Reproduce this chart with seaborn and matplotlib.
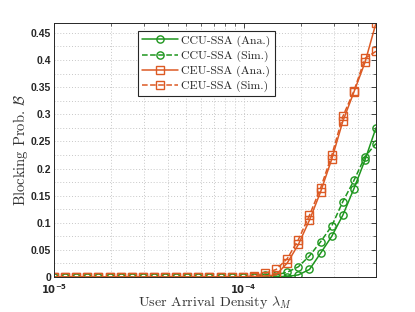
import numpy as np
import pandas as pd
import matplotlib
matplotlib.use('Agg')
import matplotlib.pyplot as plt
import seaborn as sns
from matplotlib.ticker import FixedLocator, MultipleLocator, NullFormatter

# user arrival density (log spaced)
x_vals = [1.000e-5, 1.145e-5, 1.310e-5, 1.499e-5, 1.716e-5, 1.964e-5, 2.248e-5, 2.572e-5,
          2.944e-5, 3.369e-5, 3.856e-5, 4.413e-5, 5.051e-5, 5.781e-5, 6.616e-5, 7.573e-5,
          8.667e-5, 9.919e-5, 1.135e-4, 1.299e-4, 1.487e-4, 1.702e-4, 1.948e-4, 2.229e-4,
          2.551e-4, 2.920e-4, 3.342e-4, 3.825e-4, 4.378e-4, 5.000e-4]

ccu_ana = [0, 0, 0, 0, 0, 0, 0, 0, 0, 0, 0, 0, 0, 0, 0, 0, 0, 0,
           0.0, 0.001, 0.001, 0.001, 0.004, 0.014, 0.044, 0.075, 0.114, 0.163, 0.216, 0.275]
ccu_sim = [0, 0, 0, 0, 0, 0, 0, 0, 0, 0, 0, 0, 0, 0, 0, 0, 0, 0,
           0.0005, 0.004, 0.004, 0.009, 0.019, 0.039, 0.065, 0.094, 0.139, 0.178, 0.222, 0.246]
ceu_ana = [0, 0, 0, 0, 0, 0, 0, 0, 0, 0, 0, 0, 0, 0, 0, 0, 0, 0,
           0.001, 0.002, 0.004, 0.026, 0.060, 0.105, 0.157, 0.217, 0.287, 0.341, 0.396, 0.468]
ceu_sim = [0, 0, 0, 0, 0, 0, 0, 0, 0, 0, 0, 0, 0, 0, 0, 0, 0, 0.0005,
           0.002, 0.007, 0.014, 0.034, 0.069, 0.114, 0.164, 0.224, 0.296, 0.343, 0.403, 0.416]

labels = ['CCU-SSA (Ana.)', 'CCU-SSA (Sim.)', 'CEU-SSA (Ana.)', 'CEU-SSA (Sim.)']

green = '#1e961e'
orange = '#dc5a24'

sns.set_style('white')
plt.rcParams['mathtext.fontset'] = 'cm'

fig = plt.figure(figsize=(4.15, 3.12), dpi=100)
ax = fig.add_axes([0.130, 0.112, 0.776, 0.814])

df = pd.DataFrame({'x': x_vals, 'ccu_ana': ccu_ana, 'ccu_sim': ccu_sim,
                   'ceu_ana': ceu_ana, 'ceu_sim': ceu_sim})

styles = [('ccu_ana', green, 'o', '-'), ('ccu_sim', green, 'o', '--'),
          ('ceu_ana', orange, 's', '-'), ('ceu_sim', orange, 's', '--')]
for (col, c, m, ls), lab in zip(styles, labels):
    sns.lineplot(data=df, x='x', y=col, ax=ax, color=c, marker=m, linestyle=ls,
                 markersize=5.2, markerfacecolor='none', markeredgecolor=c,
                 markeredgewidth=1.0, linewidth=1.1, label=lab)

ax.set_xscale('log')
ax.set_xlim(1e-5, 5e-4)
ax.set_ylim(0, 0.468)

ax.xaxis.set_major_locator(FixedLocator([1e-5, 1e-4]))
ax.set_xticklabels([r'$\mathbf{10^{-5}}$', r'$\mathbf{10^{-4}}$'])
for t in ax.get_xticklabels():
    t.set_math_fontfamily('dejavusans')
    t.set_fontsize(7.2)
    t.set_color('#262626')
ax.xaxis.set_minor_locator(FixedLocator([2e-5, 3e-5, 4e-5, 5e-5, 6e-5, 7e-5, 8e-5, 9e-5,
                                         2e-4, 3e-4, 4e-4, 5e-4]))
ax.xaxis.set_minor_formatter(NullFormatter())

ax.yaxis.set_minor_locator(MultipleLocator(0.025))
ax.set_yticks(np.arange(0, 0.46, 0.05))
ax.set_yticklabels(['0', '0.05', '0.1', '0.15', '0.2', '0.25', '0.3', '0.35', '0.4', '0.45'],
                   fontfamily='Liberation Sans', fontweight='bold', fontsize=7.5)

ax.tick_params(which='both', direction='in', top=True, right=True, color='#262626')
ax.tick_params(which='major', length=3.5, width=0.6, labelcolor='#262626')
ax.tick_params(axis='x', which='major', pad=4)
ax.tick_params(axis='y', which='major', pad=2)
ax.tick_params(which='minor', length=2, width=0.5)

ax.grid(True, which='both', linestyle=(0, (1, 2)), color='#c8c8c8', linewidth=0.7)
for s in ax.spines.values():
    s.set_color('#262626')
    s.set_linewidth(0.7)

ax.set_xlabel(r'User Arrival Density $\lambda_M$', fontfamily='cmr10', fontsize=10.2,
              color='#333333')
ax.xaxis.set_label_coords(0.5, -0.067)
ax.set_ylabel(r'Blocking Prob. $\mathcal{B}$', fontfamily='cmr10', fontsize=10.5,
              color='#333333', labelpad=1)

leg = ax.legend(loc='upper left', bbox_to_anchor=(0.262, 0.968), frameon=True,
                fancybox=False, edgecolor='#262626', framealpha=1, borderpad=0.35,
                labelspacing=0.32, handlelength=3.0, handletextpad=0.3,
                borderaxespad=0, prop={'family': 'cmr10', 'size': 8.5})
leg.get_frame().set_linewidth(0.8)

fig.savefig('out.png', dpi=100)
